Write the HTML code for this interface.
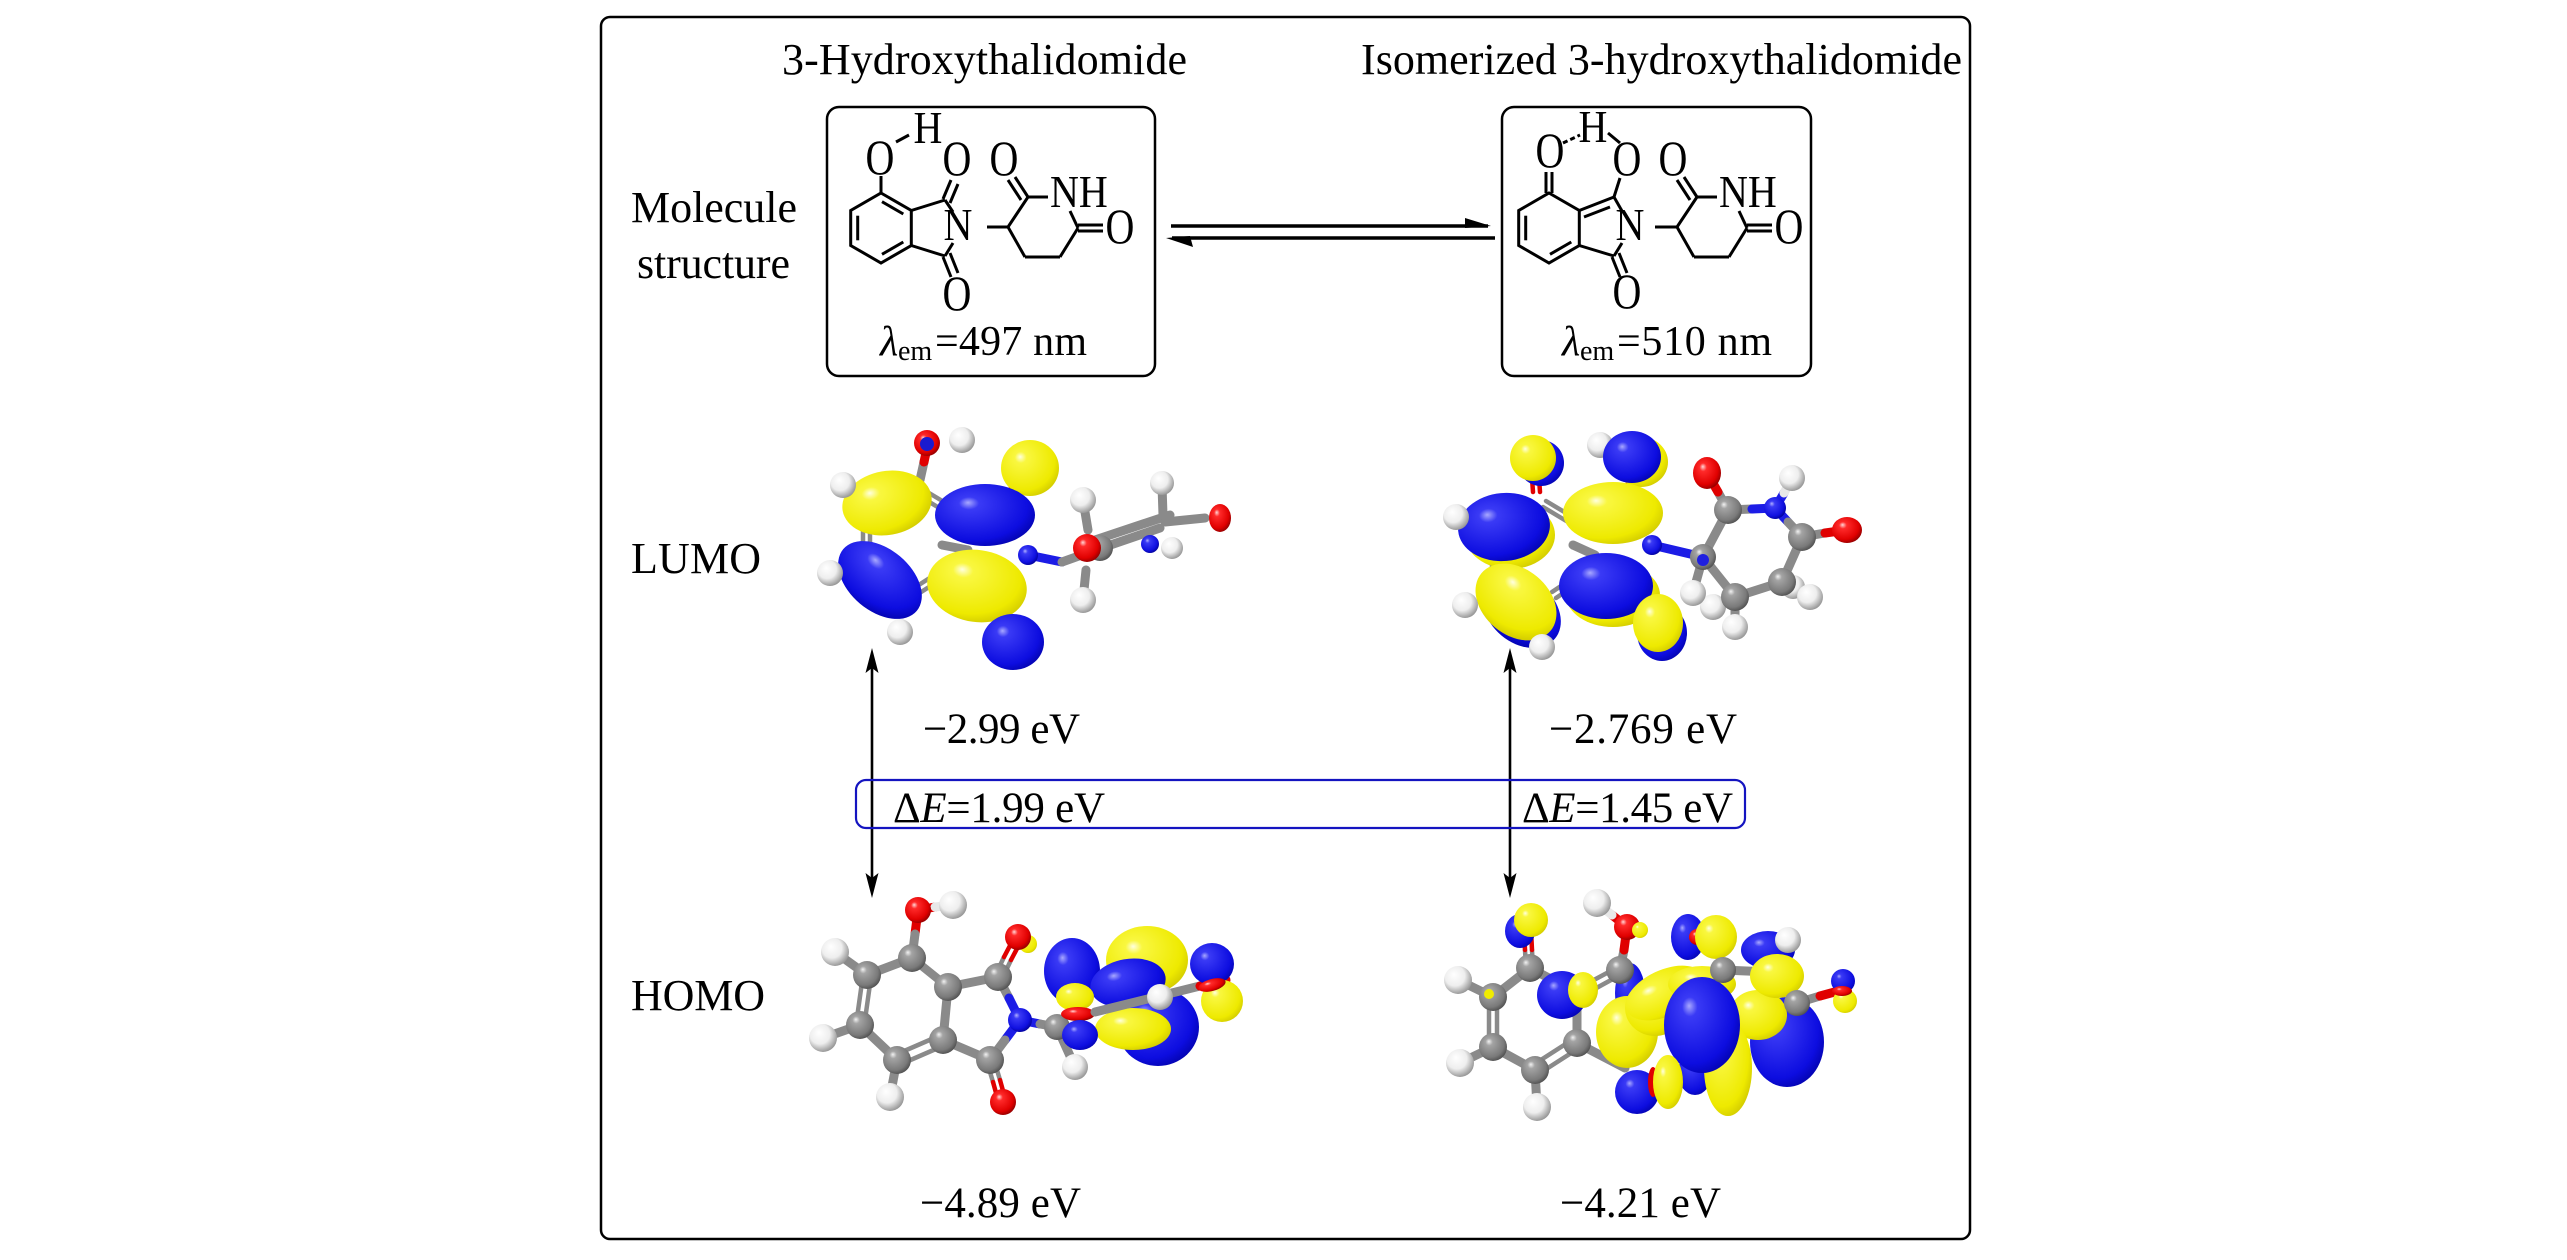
<!DOCTYPE html>
<html>
<head>
<meta charset="utf-8">
<style>
html,body{margin:0;padding:0;background:#fff;overflow:hidden;}
svg{display:block;}
text{font-family:"Liberation Serif","Times New Roman",serif;fill:#000;}
.b{stroke:#000;stroke-width:3;fill:none;}
.g9{stroke:#8a8a8a;stroke-width:9;stroke-linecap:round;}
.g5{stroke:#8a8a8a;stroke-width:4.5;stroke-linecap:round;}
.r5{stroke:#e00000;stroke-width:4.5;stroke-linecap:round;}
.r9{stroke:#e00000;stroke-width:9;stroke-linecap:round;}
.n9{stroke:#1c1ce6;stroke-width:9;stroke-linecap:round;}
.w9{stroke:#e8e8e8;stroke-width:9;stroke-linecap:round;}
</style>
</head>
<body>
<svg width="2567" height="1260" viewBox="0 0 2567 1260" xmlns="http://www.w3.org/2000/svg">
<defs>
<radialGradient id="gY" cx="0.4" cy="0.38" r="0.72" fx="0.33" fy="0.3">
<stop offset="0" stop-color="#ffffe0"/><stop offset="0.14" stop-color="#f9f740"/><stop offset="0.75" stop-color="#eeea00"/><stop offset="1" stop-color="#c8c000"/>
</radialGradient>
<radialGradient id="gB" cx="0.4" cy="0.38" r="0.72" fx="0.33" fy="0.3">
<stop offset="0" stop-color="#a8a8ff"/><stop offset="0.14" stop-color="#3a3af5"/><stop offset="0.75" stop-color="#0d0de0"/><stop offset="1" stop-color="#0000a0"/>
</radialGradient>
<radialGradient id="gC" cx="0.42" cy="0.4" r="0.65" fx="0.35" fy="0.3">
<stop offset="0" stop-color="#f2f2f2"/><stop offset="0.2" stop-color="#a4a4a4"/><stop offset="0.75" stop-color="#7a7a7a"/><stop offset="1" stop-color="#4a4a4a"/>
</radialGradient>
<radialGradient id="gO" cx="0.42" cy="0.4" r="0.65" fx="0.35" fy="0.3">
<stop offset="0" stop-color="#ffd8d8"/><stop offset="0.2" stop-color="#ff2a2a"/><stop offset="0.75" stop-color="#e00000"/><stop offset="1" stop-color="#880000"/>
</radialGradient>
<radialGradient id="gH" cx="0.42" cy="0.4" r="0.65" fx="0.35" fy="0.3">
<stop offset="0" stop-color="#ffffff"/><stop offset="0.55" stop-color="#eeeeee"/><stop offset="1" stop-color="#8c8c8c"/>
</radialGradient>
<radialGradient id="gN" cx="0.42" cy="0.4" r="0.65" fx="0.35" fy="0.3">
<stop offset="0" stop-color="#b0b0ff"/><stop offset="0.2" stop-color="#3a3af5"/><stop offset="0.75" stop-color="#1010e0"/><stop offset="1" stop-color="#000090"/>
</radialGradient>
</defs>

<rect x="0" y="0" width="2567" height="1260" fill="#fff"/>

<!-- outer frame -->
<rect x="601" y="17" width="1369" height="1222" rx="9" ry="9" fill="none" stroke="#000" stroke-width="2.5"/>

<!-- titles -->
<text x="782" y="74" font-size="44" textLength="405">3-Hydroxythalidomide</text>
<text x="1361" y="74" font-size="44" textLength="601">Isomerized 3-hydroxythalidomide</text>

<text x="631" y="222" font-size="44" textLength="166">Molecule</text>
<text x="637" y="278" font-size="44" textLength="153">structure</text>
<text x="631" y="573" font-size="44" textLength="130">LUMO</text>
<text x="631" y="1010" font-size="44" textLength="134">HOMO</text>

<!-- molecule boxes -->
<rect x="827" y="107" width="328" height="269" rx="12" ry="12" fill="none" stroke="#000" stroke-width="2.5"/>
<rect x="1502" y="107" width="309" height="269" rx="12" ry="12" fill="none" stroke="#000" stroke-width="2.5"/>

<!-- LEFT structure -->
<g class="b">
<polygon points="881,193 911.3,210.5 911.3,245.5 881,263 850.7,245.5 850.7,210.5"/>
<line x1="882" y1="201.7" x2="903.3" y2="214"/>
<line x1="903.3" y1="242" x2="882" y2="254.3"/>
<line x1="857.7" y1="215.7" x2="857.7" y2="240.3"/>
<line x1="881" y1="193" x2="881" y2="176"/>
<line x1="896" y1="142" x2="909" y2="135"/>
<line x1="911.3" y1="210.5" x2="945" y2="200"/>
<line x1="945" y1="200" x2="953" y2="212"/>
<line x1="911.3" y1="245.5" x2="945" y2="256"/>
<line x1="945" y1="256" x2="953" y2="243"/>
<line x1="943" y1="199" x2="951" y2="180"/>
<line x1="950" y1="203" x2="958" y2="184"/>
<line x1="943" y1="257" x2="951" y2="277"/>
<line x1="950" y1="253" x2="958" y2="273"/>
<line x1="987" y1="227" x2="1008" y2="227"/>
<line x1="1008" y1="227" x2="1028" y2="197"/>
<line x1="1028" y1="197" x2="1048" y2="197"/>
<line x1="1070" y1="211" x2="1078" y2="228"/>
<line x1="1078" y1="228" x2="1060" y2="257"/>
<line x1="1060" y1="257" x2="1025" y2="257"/>
<line x1="1025" y1="257" x2="1008" y2="227"/>
<line x1="1028" y1="197" x2="1015" y2="177"/>
<line x1="1021" y1="200" x2="1008" y2="180"/>
<line x1="1078" y1="225" x2="1103" y2="225"/>
<line x1="1078" y1="231" x2="1103" y2="231"/>
</g>
<g font-size="40" text-anchor="middle">
<text transform="translate(880,174) scale(1,1.25)">O</text>
<text transform="translate(928,143) scale(1,1.15)">H</text>
<text transform="translate(957,175) scale(1,1.25)">O</text>
<text transform="translate(958,240) scale(1,1.15)">N</text>
<text transform="translate(957,310) scale(1,1.25)">O</text>
<text transform="translate(1004,175) scale(1,1.25)">O</text>
<text transform="translate(1120,243) scale(1,1.25)">O</text>
</g>
<text transform="translate(1050,207) scale(1,1.15)" font-size="40">NH</text>
<text x="880" y="355" font-size="42" font-style="italic">λ</text>
<text x="898" y="360" font-size="28">em</text>
<text x="935" y="355" font-size="42" textLength="152">=497 nm</text>

<!-- RIGHT structure -->
<g class="b">
<polygon points="1549,193 1579.3,210.5 1579.3,245.5 1549,263 1518.7,245.5 1518.7,210.5"/>
<line x1="1571.3" y1="242" x2="1550" y2="254.3"/>
<line x1="1525.7" y1="215.7" x2="1525.7" y2="240.3"/>
<line x1="1579.3" y1="210.5" x2="1614" y2="197"/>
<line x1="1584" y1="217" x2="1610" y2="207"/>
<line x1="1546" y1="193" x2="1546" y2="172"/>
<line x1="1552" y1="193" x2="1552" y2="172"/>
<line x1="1563" y1="143" x2="1580" y2="135" stroke-dasharray="5 3"/>
<line x1="1608" y1="133" x2="1620" y2="143"/>
<line x1="1614" y1="197" x2="1620" y2="178"/>
<line x1="1614" y1="197" x2="1622" y2="211"/>
<line x1="1579.3" y1="245.5" x2="1614" y2="256"/>
<line x1="1614" y1="256" x2="1622" y2="243"/>
<line x1="1612" y1="257" x2="1620" y2="277"/>
<line x1="1619" y1="253" x2="1627" y2="273"/>
<line x1="1655" y1="227" x2="1677" y2="227"/>
<line x1="1677" y1="227" x2="1697" y2="197"/>
<line x1="1697" y1="197" x2="1717" y2="197"/>
<line x1="1739" y1="211" x2="1747" y2="228"/>
<line x1="1747" y1="228" x2="1729" y2="257"/>
<line x1="1729" y1="257" x2="1694" y2="257"/>
<line x1="1694" y1="257" x2="1677" y2="227"/>
<line x1="1697" y1="197" x2="1684" y2="177"/>
<line x1="1690" y1="200" x2="1677" y2="180"/>
<line x1="1747" y1="225" x2="1772" y2="225"/>
<line x1="1747" y1="231" x2="1772" y2="231"/>
</g>
<g font-size="40" text-anchor="middle">
<text transform="translate(1550,167) scale(1,1.25)">O</text>
<text transform="translate(1593,142) scale(1,1.15)">H</text>
<text transform="translate(1627,175) scale(1,1.25)">O</text>
<text transform="translate(1630,240) scale(1,1.15)">N</text>
<text transform="translate(1627,308) scale(1,1.25)">O</text>
<text transform="translate(1673,175) scale(1,1.25)">O</text>
<text transform="translate(1789,243) scale(1,1.25)">O</text>
</g>
<text transform="translate(1719,207) scale(1,1.15)" font-size="40">NH</text>
<text x="1562" y="355" font-size="42" font-style="italic">λ</text>
<text x="1580" y="360" font-size="28">em</text>
<text x="1617" y="355" font-size="42" textLength="155">=510 nm</text>

<!-- equilibrium arrows -->
<line x1="1171" y1="226" x2="1488" y2="226" stroke="#000" stroke-width="3.5"/>
<polygon points="1465,218 1491,226 1465,228" fill="#000"/>
<line x1="1172" y1="238" x2="1495" y2="238" stroke="#000" stroke-width="3.5"/>
<polygon points="1166,238 1193,247 1190,236" fill="#000"/>

<!-- vertical arrows -->
<line x1="872" y1="666" x2="872" y2="880" stroke="#000" stroke-width="2.6"/>
<polygon points="872,648 878.5,673 872,668 865.5,673" fill="#000"/>
<polygon points="872,898 878.5,873 872,878 865.5,873" fill="#000"/>
<line x1="1510" y1="666" x2="1510" y2="880" stroke="#000" stroke-width="2.6"/>
<polygon points="1510,648 1516.5,673 1510,668 1503.5,673" fill="#000"/>
<polygon points="1510,898 1516.5,873 1510,878 1503.5,873" fill="#000"/>

<!-- energies -->
<text x="923" y="743" font-size="43" textLength="157">−2.99 eV</text>
<text x="1549" y="743" font-size="43" textLength="188">−2.769 eV</text>
<text x="920" y="1217" font-size="43" textLength="161">−4.89 eV</text>
<text x="1560" y="1217" font-size="43" textLength="161">−4.21 eV</text>

<!-- delta E box -->
<rect x="856" y="780" width="889" height="48" rx="10" ry="10" fill="none" stroke="#1414c0" stroke-width="2.2"/>
<text x="893" y="822" font-size="43" textLength="212">Δ<tspan font-style="italic">E</tspan>=1.99 eV</text>
<text x="1522" y="822" font-size="43" textLength="211">Δ<tspan font-style="italic">E</tspan>=1.45 eV</text>

<!-- ================= LUMO LEFT ================= -->
<g>
<line class="g9" x1="920" y1="480" x2="924" y2="462"/>
<line class="r9" x1="924" y1="462" x2="927" y2="448"/>
<line class="g5" x1="926" y1="500" x2="946" y2="512"/>
<line class="g5" x1="929" y1="493" x2="949" y2="505"/>
<line class="g5" x1="863" y1="528" x2="863" y2="552"/>
<line class="g5" x1="870" y1="528" x2="870" y2="552"/>
<line class="g5" x1="914" y1="588" x2="936" y2="574"/>
<line class="g5" x1="918" y1="594" x2="940" y2="580"/>
<line class="g9" x1="942" y1="545" x2="968" y2="550"/>
<line class="r5" x1="1008" y1="494" x2="1014" y2="482"/>
<line class="r5" x1="1014" y1="497" x2="1020" y2="485"/>
<line class="r5" x1="1000" y1="612" x2="1004" y2="622"/>
<line class="r5" x1="1006" y1="610" x2="1010" y2="620"/>
<line class="n9" x1="1028" y1="555" x2="1062" y2="562"/>
<line class="g9" x1="1062" y1="562" x2="1090" y2="552"/>
<line class="g9" x1="1090" y1="552" x2="1160" y2="528"/>
<line class="g9" x1="1095" y1="540" x2="1170" y2="515"/>
<line class="g9" x1="1165" y1="522" x2="1205" y2="518"/>
<line class="g9" x1="1083" y1="500" x2="1088" y2="530"/>
<line class="g9" x1="1083" y1="600" x2="1086" y2="570"/>
<line class="g9" x1="1162" y1="485" x2="1163" y2="515"/>

<ellipse cx="887" cy="503" rx="45" ry="32" transform="rotate(-10 887 503)" fill="url(#gY)"/>
<ellipse cx="1030" cy="468" rx="29" ry="28" fill="url(#gY)"/>
<ellipse cx="985" cy="515" rx="50" ry="31" fill="url(#gB)"/>
<ellipse cx="977" cy="586" rx="50" ry="36" transform="rotate(8 977 586)" fill="url(#gY)"/>
<ellipse cx="880" cy="580" rx="48" ry="31" transform="rotate(40 880 580)" fill="url(#gB)"/>
<ellipse cx="1013" cy="642" rx="31" ry="28" fill="url(#gB)"/>

<circle cx="927" cy="443" r="13" fill="url(#gO)"/>
<circle cx="927" cy="444" r="7" fill="#1a1ad0"/>
<circle cx="962" cy="440" r="13" fill="url(#gH)"/>
<circle cx="843" cy="485" r="13" fill="url(#gH)"/>
<circle cx="830" cy="573" r="13" fill="url(#gH)"/>
<circle cx="900" cy="632" r="13" fill="url(#gH)"/>
<circle cx="1028" cy="555" r="10" fill="url(#gN)"/>
<circle cx="1083" cy="500" r="13" fill="url(#gH)"/>
<circle cx="1083" cy="600" r="13" fill="url(#gH)"/>
<circle cx="1100" cy="548" r="13" fill="url(#gC)"/>
<circle cx="1087" cy="548" r="14" fill="url(#gO)"/>
<circle cx="1162" cy="483" r="12" fill="url(#gH)"/>
<circle cx="1150" cy="544" r="9" fill="url(#gN)"/>
<circle cx="1172" cy="548" r="11" fill="url(#gH)"/>
<ellipse cx="1220" cy="518" rx="11" ry="14" fill="url(#gO)"/>
</g>

<!-- ================= LUMO RIGHT ================= -->
<g>
<line class="r5" x1="1532" y1="478" x2="1533" y2="492"/>
<line class="r5" x1="1539" y1="478" x2="1540" y2="492"/>
<line class="g5" x1="1543" y1="507" x2="1568" y2="522"/>
<line class="g5" x1="1546" y1="501" x2="1571" y2="516"/>
<line class="g5" x1="1492" y1="548" x2="1492" y2="572"/>
<line class="g5" x1="1499" y1="548" x2="1499" y2="572"/>
<line class="g5" x1="1552" y1="592" x2="1570" y2="580"/>
<line class="g5" x1="1556" y1="598" x2="1574" y2="586"/>
<line class="g9" x1="1573" y1="545" x2="1595" y2="555"/>
<line class="r5" x1="1627" y1="478" x2="1630" y2="492"/>
<line class="r5" x1="1640" y1="600" x2="1646" y2="612"/>
<line class="n9" x1="1652" y1="545" x2="1703" y2="557"/>
<line class="g9" x1="1703" y1="557" x2="1728" y2="510"/>
<line class="g9" x1="1728" y1="510" x2="1718" y2="492"/>
<line class="r9" x1="1718" y1="492" x2="1707" y2="473"/>
<line class="g9" x1="1728" y1="510" x2="1752" y2="509"/>
<line class="n9" x1="1752" y1="509" x2="1775" y2="508"/>
<line class="n9" x1="1775" y1="508" x2="1784" y2="493"/>
<line class="w9" x1="1784" y1="493" x2="1792" y2="478"/>
<line class="n9" x1="1775" y1="508" x2="1788" y2="522"/>
<line class="g9" x1="1788" y1="522" x2="1802" y2="537"/>
<line class="g9" x1="1802" y1="537" x2="1825" y2="533"/>
<line class="r9" x1="1825" y1="533" x2="1847" y2="530"/>
<line class="g9" x1="1802" y1="537" x2="1782" y2="582"/>
<line class="g9" x1="1782" y1="582" x2="1735" y2="597"/>
<line class="g9" x1="1735" y1="597" x2="1703" y2="557"/>
<line class="g9" x1="1703" y1="557" x2="1693" y2="593"/>
<line class="g9" x1="1735" y1="597" x2="1713" y2="607"/>
<line class="g9" x1="1735" y1="597" x2="1735" y2="627"/>
<line class="g9" x1="1782" y1="582" x2="1810" y2="597"/>

<circle cx="1600" cy="445" r="13" fill="url(#gH)"/>
<ellipse cx="1541" cy="463" rx="23" ry="23" fill="url(#gB)"/>
<ellipse cx="1533" cy="458" rx="23" ry="23" fill="url(#gY)"/>
<ellipse cx="1641" cy="462" rx="27" ry="25" fill="url(#gY)"/>
<ellipse cx="1632" cy="457" rx="29" ry="26" fill="url(#gB)"/>
<ellipse cx="1510" cy="535" rx="45" ry="34" fill="url(#gY)"/>
<ellipse cx="1504" cy="527" rx="46" ry="34" transform="rotate(-5 1504 527)" fill="url(#gB)"/>
<ellipse cx="1613" cy="513" rx="50" ry="31" fill="url(#gY)"/>
<ellipse cx="1613" cy="595" rx="47" ry="32" fill="url(#gY)"/>
<ellipse cx="1606" cy="586" rx="47" ry="33" fill="url(#gB)"/>
<ellipse cx="1522" cy="611" rx="43" ry="32" transform="rotate(40 1522 611)" fill="url(#gB)"/>
<ellipse cx="1516" cy="602" rx="45" ry="33" transform="rotate(40 1516 602)" fill="url(#gY)"/>
<ellipse cx="1662" cy="633" rx="25" ry="28" fill="url(#gB)"/>
<ellipse cx="1658" cy="623" rx="25" ry="29" fill="url(#gY)"/>

<circle cx="1456" cy="517" r="13" fill="url(#gH)"/>
<circle cx="1465" cy="605" r="13" fill="url(#gH)"/>
<circle cx="1542" cy="647" r="13" fill="url(#gH)"/>
<circle cx="1652" cy="545" r="10" fill="url(#gN)"/>

<circle cx="1713" cy="607" r="13" fill="url(#gH)"/>
<circle cx="1793" cy="587" r="12" fill="url(#gH)"/>
<circle cx="1703" cy="557" r="13" fill="url(#gC)"/>
<circle cx="1703" cy="560" r="6" fill="#2020e0"/>
<circle cx="1728" cy="510" r="14" fill="url(#gC)"/>
<ellipse cx="1707" cy="473" rx="14" ry="16" fill="url(#gO)"/>
<circle cx="1775" cy="508" r="11" fill="url(#gN)"/>
<circle cx="1792" cy="478" r="13" fill="url(#gH)"/>
<circle cx="1802" cy="537" r="14" fill="url(#gC)"/>
<ellipse cx="1847" cy="530" rx="15" ry="13" fill="url(#gO)"/>
<circle cx="1782" cy="582" r="14" fill="url(#gC)"/>
<circle cx="1735" cy="597" r="14" fill="url(#gC)"/>
<circle cx="1693" cy="593" r="13" fill="url(#gH)"/>
<circle cx="1735" cy="627" r="13" fill="url(#gH)"/>
<circle cx="1810" cy="597" r="13" fill="url(#gH)"/>
</g>

<!-- ================= HOMO LEFT ================= -->
<g>
<line class="r9" x1="918" y1="910" x2="915" y2="934"/>
<line class="g9" x1="915" y1="934" x2="912" y2="958"/>
<line class="r9" x1="918" y1="910" x2="935" y2="907"/>
<line class="w9" x1="935" y1="907" x2="953" y2="905"/>
<line class="g9" x1="912" y1="958" x2="867" y2="975"/>
<line class="g5" x1="863" y1="975" x2="856" y2="1025"/>
<line class="g5" x1="871" y1="977" x2="864" y2="1027"/>
<line class="g9" x1="860" y1="1025" x2="897" y2="1060"/>
<line class="g5" x1="895" y1="1055" x2="941" y2="1035"/>
<line class="g5" x1="899" y1="1065" x2="945" y2="1045"/>
<line class="g9" x1="943" y1="1040" x2="948" y2="987"/>
<line class="g5" x1="945" y1="982" x2="909" y2="953"/>
<line class="g5" x1="951" y1="992" x2="915" y2="963"/>
<line class="g9" x1="948" y1="987" x2="998" y2="977"/>
<line class="g5" x1="995" y1="976" x2="1004" y2="957"/>
<line class="g5" x1="1002" y1="979" x2="1011" y2="960"/>
<line class="r5" x1="1004" y1="957" x2="1014" y2="938"/>
<line class="r5" x1="1011" y1="960" x2="1021" y2="941"/>
<line class="g9" x1="998" y1="977" x2="1009" y2="998"/>
<line class="n9" x1="1009" y1="998" x2="1020" y2="1020"/>
<line class="n9" x1="1020" y1="1020" x2="1005" y2="1040"/>
<line class="g9" x1="1005" y1="1040" x2="990" y2="1060"/>
<line class="g9" x1="990" y1="1060" x2="943" y2="1040"/>
<line class="g5" x1="987" y1="1062" x2="993" y2="1082"/>
<line class="g5" x1="994" y1="1060" x2="1000" y2="1080"/>
<line class="r5" x1="993" y1="1082" x2="998" y2="1100"/>
<line class="r5" x1="1000" y1="1080" x2="1005" y2="1098"/>
<line class="n9" x1="1020" y1="1020" x2="1040" y2="1024"/>
<line class="g9" x1="1040" y1="1024" x2="1057" y2="1027"/>
<line class="g9" x1="835" y1="952" x2="867" y2="975"/>
<line class="g9" x1="823" y1="1038" x2="860" y2="1025"/>
<line class="g9" x1="890" y1="1097" x2="897" y2="1060"/>
<line class="g9" x1="1075" y1="1067" x2="1057" y2="1027"/>

<circle cx="1028" cy="944" r="9" fill="url(#gY)"/>
<circle cx="918" cy="910" r="13" fill="url(#gO)"/>
<circle cx="953" cy="905" r="14" fill="url(#gH)"/>
<circle cx="835" cy="952" r="14" fill="url(#gH)"/>
<circle cx="823" cy="1038" r="14" fill="url(#gH)"/>
<circle cx="890" cy="1097" r="14" fill="url(#gH)"/>
<circle cx="912" cy="958" r="14" fill="url(#gC)"/>
<circle cx="867" cy="975" r="14" fill="url(#gC)"/>
<circle cx="860" cy="1025" r="14" fill="url(#gC)"/>
<circle cx="897" cy="1060" r="14" fill="url(#gC)"/>
<circle cx="948" cy="987" r="14" fill="url(#gC)"/>
<circle cx="943" cy="1040" r="14" fill="url(#gC)"/>
<circle cx="998" cy="977" r="14" fill="url(#gC)"/>
<circle cx="1018" cy="937" r="13" fill="url(#gO)"/>
<circle cx="1020" cy="1020" r="12" fill="url(#gN)"/>
<circle cx="990" cy="1060" r="14" fill="url(#gC)"/>
<circle cx="1003" cy="1102" r="13" fill="url(#gO)"/>
<circle cx="1057" cy="1027" r="13" fill="url(#gC)"/>

<ellipse cx="1072" cy="971" rx="28" ry="33" fill="url(#gB)"/>
<ellipse cx="1147" cy="960" rx="41" ry="34" fill="url(#gY)"/>
<ellipse cx="1158" cy="1027" rx="41" ry="39" fill="url(#gB)"/>
<ellipse cx="1128" cy="983" rx="38" ry="24" transform="rotate(-10 1128 983)" fill="url(#gB)"/>
<ellipse cx="1133" cy="1029" rx="38" ry="21" fill="url(#gY)"/>
<ellipse cx="1075" cy="997" rx="19" ry="14" fill="url(#gY)"/>
<ellipse cx="1078" cy="1014" rx="17" ry="7" fill="url(#gO)"/>
<ellipse cx="1080" cy="1035" rx="18" ry="15" fill="url(#gB)"/>
<line class="g9" x1="1095" y1="1012" x2="1200" y2="986"/>
<line class="r9" x1="1200" y1="986" x2="1226" y2="980"/>
<circle cx="1160" cy="997" r="13" fill="url(#gH)"/>
<ellipse cx="1212" cy="964" rx="22" ry="21" fill="url(#gB)"/>
<ellipse cx="1222" cy="1001" rx="21" ry="21" fill="url(#gY)"/>
<ellipse cx="1212" cy="985" rx="14" ry="6" transform="rotate(-15 1212 985)" fill="url(#gO)"/>
<circle cx="1075" cy="1067" r="13" fill="url(#gH)"/>
</g>

<!-- ================= HOMO RIGHT ================= -->
<g>
<line class="g5" x1="1526" y1="968" x2="1525" y2="950"/>
<line class="g5" x1="1533" y1="968" x2="1532" y2="950"/>
<line class="r5" x1="1525" y1="950" x2="1524" y2="930"/>
<line class="r5" x1="1532" y1="950" x2="1531" y2="930"/>
<line class="g9" x1="1530" y1="968" x2="1493" y2="997"/>
<line class="g5" x1="1489" y1="997" x2="1489" y2="1047"/>
<line class="g5" x1="1497" y1="997" x2="1497" y2="1047"/>
<line class="g9" x1="1493" y1="1047" x2="1535" y2="1070"/>
<line class="g5" x1="1533" y1="1065" x2="1575" y2="1038"/>
<line class="g5" x1="1537" y1="1075" x2="1579" y2="1048"/>
<line class="g9" x1="1577" y1="1043" x2="1577" y2="993"/>
<line class="g9" x1="1577" y1="993" x2="1530" y2="968"/>
<line class="g5" x1="1577" y1="989" x2="1620" y2="966"/>
<line class="g5" x1="1580" y1="997" x2="1622" y2="974"/>
<line class="g9" x1="1620" y1="970" x2="1624" y2="950"/>
<line class="r9" x1="1624" y1="950" x2="1627" y2="927"/>
<line class="r9" x1="1627" y1="927" x2="1612" y2="915"/>
<line class="w9" x1="1612" y1="915" x2="1597" y2="903"/>
<line class="g9" x1="1577" y1="1043" x2="1625" y2="1068"/>
<line class="g9" x1="1458" y1="980" x2="1493" y2="997"/>
<line class="g9" x1="1460" y1="1063" x2="1493" y2="1047"/>
<line class="g9" x1="1537" y1="1107" x2="1535" y2="1070"/>

<ellipse cx="1520" cy="931" rx="15" ry="17" fill="url(#gB)"/>
<ellipse cx="1531" cy="920" rx="17" ry="17" fill="url(#gY)"/>
<circle cx="1458" cy="980" r="14" fill="url(#gH)"/>
<circle cx="1460" cy="1063" r="14" fill="url(#gH)"/>
<circle cx="1537" cy="1107" r="14" fill="url(#gH)"/>
<circle cx="1530" cy="968" r="14" fill="url(#gC)"/>
<circle cx="1493" cy="997" r="14" fill="url(#gC)"/>
<circle cx="1489" cy="994" r="5" fill="#f0ec00"/>
<circle cx="1493" cy="1047" r="14" fill="url(#gC)"/>
<circle cx="1535" cy="1070" r="14" fill="url(#gC)"/>
<circle cx="1577" cy="1043" r="14" fill="url(#gC)"/>
<circle cx="1597" cy="903" r="14" fill="url(#gH)"/>
<circle cx="1627" cy="927" r="13" fill="url(#gO)"/>
<circle cx="1640" cy="930" r="8" fill="url(#gY)"/>

<ellipse cx="1562" cy="995" rx="25" ry="24" fill="url(#gB)"/>
<ellipse cx="1583" cy="990" rx="15" ry="18" fill="url(#gY)"/>
<ellipse cx="1630" cy="993" rx="15" ry="30" fill="url(#gB)"/>
<circle cx="1620" cy="970" r="14" fill="url(#gC)"/>

<ellipse cx="1695" cy="1073" rx="17" ry="22" fill="url(#gB)"/>
<ellipse cx="1787" cy="1042" rx="37" ry="45" fill="url(#gB)"/>
<ellipse cx="1758" cy="1015" rx="29" ry="25" fill="url(#gY)"/>
<ellipse cx="1728" cy="1068" rx="24" ry="48" fill="url(#gY)"/>
<ellipse cx="1627" cy="1032" rx="31" ry="36" fill="url(#gY)"/>
<ellipse cx="1655" cy="1008" rx="30" ry="28" fill="url(#gY)"/>
<ellipse cx="1665" cy="993" rx="42" ry="23" transform="rotate(-25 1665 993)" fill="url(#gY)"/>
<ellipse cx="1702" cy="984" rx="34" ry="18" fill="url(#gY)"/>
<ellipse cx="1702" cy="1025" rx="38" ry="48" fill="url(#gB)"/>
<ellipse cx="1637" cy="1092" rx="22" ry="22" fill="url(#gB)"/>
<ellipse cx="1653" cy="1082" rx="5" ry="15" fill="#e00000"/>
<ellipse cx="1668" cy="1082" rx="15" ry="27" fill="url(#gY)"/>
<ellipse cx="1688" cy="937" rx="17" ry="23" fill="url(#gB)"/>
<circle cx="1697" cy="937" r="8" fill="url(#gO)"/>
<ellipse cx="1716" cy="937" rx="21" ry="22" fill="url(#gY)"/>
<line class="g9" x1="1723" y1="970" x2="1770" y2="972"/>
<circle cx="1723" cy="970" r="13" fill="url(#gC)"/>
<ellipse cx="1768" cy="950" rx="27" ry="19" fill="url(#gB)"/>
<circle cx="1788" cy="940" r="13" fill="url(#gH)"/>
<ellipse cx="1777" cy="976" rx="27" ry="22" fill="url(#gY)"/>
<line class="g9" x1="1797" y1="1003" x2="1820" y2="996"/>
<line class="r9" x1="1820" y1="996" x2="1842" y2="990"/>
<circle cx="1797" cy="1003" r="13" fill="url(#gC)"/>
<circle cx="1843" cy="981" r="12" fill="url(#gB)"/>
<circle cx="1845" cy="1001" r="12" fill="url(#gY)"/>
<ellipse cx="1842" cy="991" rx="10" ry="5" fill="url(#gO)"/>
</g>

</svg>
</body>
</html>
